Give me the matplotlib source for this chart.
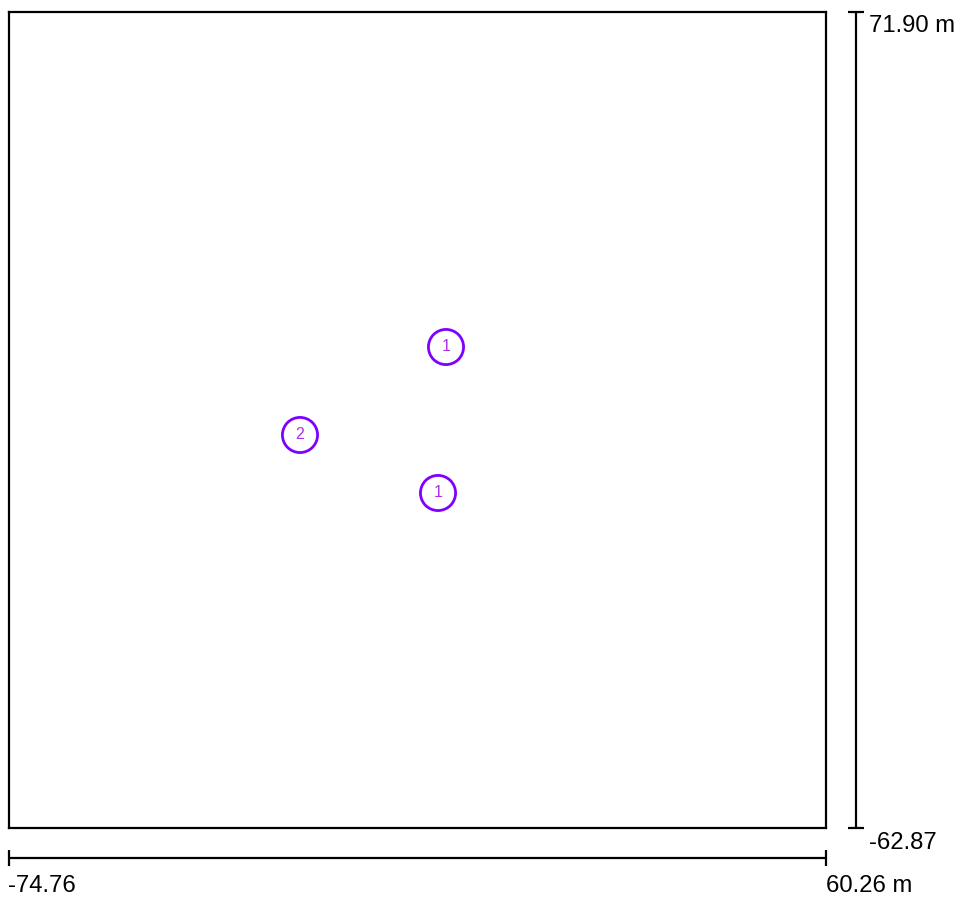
import matplotlib
matplotlib.use("Agg")
import matplotlib.pyplot as plt
from matplotlib.lines import Line2D

plt.rcParams['font.family'] = ['Liberation Sans', 'DejaVu Sans']

x_min, x_max = -74.76, 60.26
y_min, y_max = -62.87, 71.90
point_x = [-2.54, -26.67, -3.86]
point_y = [16.57, 2.04, -7.54]
point_labels = ["1", "2", "1"]

W, H = 958, 897
fig = plt.figure(figsize=(W / 100, H / 100), dpi=100)

def fx(px):
    return px / W

def fy(py):
    return 1 - py / H

L, R, T, B = 9, 826, 12, 828
ax = fig.add_axes([fx(L), fy(B), (R - L) / W, (B - T) / H])
ax.set_xlim(x_min, x_max)
ax.set_ylim(y_min, y_max)
ax.set_xticks([])
ax.set_yticks([])
for s in ax.spines.values():
    s.set_linewidth(1.6)
    s.set_color('black')

ax.scatter(point_x, point_y, s=640, facecolors='none', edgecolors='#8000ff', linewidths=2.0, zorder=3)
for x, y, t in zip(point_x, point_y, point_labels):
    ax.text(x, y + 0.15, t, ha='center', va='center', fontsize=11.5, color='#b030e8', zorder=4)

lw = 1.6
def line(xs, ys):
    fig.add_artist(Line2D([fx(v) for v in xs], [fy(v) for v in ys], color='black', linewidth=lw, solid_capstyle='butt'))

# vertical scale bar
vx = 856
line([vx, vx], [T, B])
line([vx - 8, vx + 8], [T, T])
line([vx - 8, vx + 8], [B, B])
# horizontal scale bar
hy = 858
line([L, R], [hy, hy])
line([L, L], [hy - 8, hy + 8])
line([R, R], [hy - 8, hy + 8])

fs = 17.2
fig.text(fx(869), fy(26), f"{y_max:.2f} m", ha='left', va='center', fontsize=fs)
fig.text(fx(869), fy(843), f"{y_min:.2f}", ha='left', va='center', fontsize=fs)
fig.text(fx(8), fy(886), f"{x_min:.2f}", ha='left', va='center', fontsize=fs)
fig.text(fx(826), fy(886), f"{x_max:.2f} m", ha='left', va='center', fontsize=fs)

fig.savefig("out.png", dpi=100)
